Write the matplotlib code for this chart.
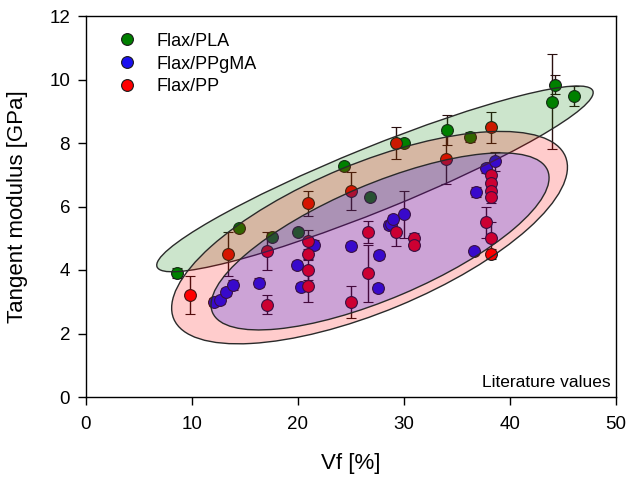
import numpy as np
import matplotlib
matplotlib.use("Agg")
import matplotlib.pyplot as plt
from matplotlib.patches import Ellipse
from matplotlib.transforms import Affine2D
from matplotlib.lines import Line2D

plt.rcParams['font.family'] = ['Liberation Sans', 'DejaVu Sans']

# ---- data ----
pla_x = [8.6, 14.4, 17.5, 20.0, 24.3, 26.8, 30.0, 34.1, 36.2, 44.0, 44.2, 46.0]
pla_y = [3.9, 5.32, 5.04, 5.2, 7.28, 6.3, 8.0, 8.41, 8.19, 9.3, 9.83, 9.48]
pla_e = [0.15, 0.1, 0.1, 0.1, 0.1, 0.1, 0.1, 0.47, 0.15, 1.5, 0.3, 0.3]

ppgma_x = [12.1, 12.6, 13.2, 13.9, 16.3, 19.9, 20.3, 21.5, 25.0, 27.5, 27.6,
           28.6, 28.8, 29.0, 30.0, 36.6, 36.8, 37.7, 38.6]
ppgma_y = [3.0, 3.05, 3.3, 3.53, 3.6, 4.15, 3.46, 4.8, 4.75, 3.43, 4.47,
           5.42, 5.45, 5.6, 5.76, 4.6, 6.46, 7.2, 7.43]
ppgma_e = [0.12, 0.12, 0.12, 0.15, 0.15, 0.12, 0.12, 0.15, 0.12, 0.12, 0.12,
           0.12, 0.12, 0.12, 0.74, 0.1, 0.15, 0.15, 0.3]

pp_x = [9.8, 13.4, 17.1, 17.1, 20.9, 20.9, 20.9, 20.9, 20.9, 25.0, 25.0, 26.6,
        26.6, 29.2, 29.2, 30.9, 30.9, 34.0, 37.7, 38.2, 38.2, 38.2, 38.2, 38.2,
        38.2, 38.2]
pp_y = [3.2, 4.5, 4.6, 2.9, 6.1, 4.9, 4.5, 4.0, 3.5, 6.5, 3.0, 5.2,
        3.9, 8.0, 5.2, 5.0, 4.8, 7.5, 5.5, 8.5, 7.0, 6.75, 6.5, 6.3,
        5.0, 4.5]
pp_e = [0.6, 0.7, 0.6, 0.3, 0.4, 0.35, 0.15, 0.3, 0.5, 0.6, 0.5, 0.35,
        0.9, 0.49, 0.45, 0.15, 0.15, 0.8, 0.5, 0.49, 0.4, 0.2, 0.2, 0.2,
        0.5, 0.15]

series_names = ['Flax/PLA', 'Flax/PPgMA', 'Flax/PP']
series_colors = ['#008000', '#1a10f0', '#ff0000']

# ellipse regions: centre (x, y), semi-axes in x-units, angle (deg, on screen)
ell_names = ['PLA', 'PP', 'PPgMA']
ell_cx = [27.26, 26.75, 27.74]
ell_cy = [6.87, 5.02, 4.9]
ell_a = [22.17, 20.0, 17.17]
ell_b = [3.02, 7.0, 5.4]
ell_ang = [22.0, 22.5, 23.0]
ell_colors = ['#008000', '#ff0000', '#0000ff']

xticks = [0, 10, 20, 30, 40, 50]
yticks = [0, 2, 4, 6, 8, 10, 12]

# ---- figure ----
fig = plt.figure(figsize=(6.3, 4.8), dpi=100)
ax = fig.add_axes([86/630, 83/480, 530/630, 381/480])
ax.set_xlim(0, 50)
ax.set_ylim(0, 12)

mk = dict(marker='o', markersize=8.5, markeredgecolor='#1a1a1a', markeredgewidth=0.8,
          linestyle='none', ecolor='#2a1010', elinewidth=1.0, capsize=3.6,
          capthick=1.0, zorder=2)
ax.errorbar(pla_x, pla_y, yerr=pla_e, color=series_colors[0], **mk)
ax.errorbar(ppgma_x, ppgma_y, yerr=ppgma_e, color=series_colors[1], **mk)
ax.errorbar(pp_x, pp_y, yerr=pp_e, color=series_colors[2], **mk)

# aspect ratio: screen pixels per y unit / per x unit
fig.canvas.draw()
bb = ax.get_window_extent()
r = (bb.height / 12.0) / (bb.width / 50.0)

for cx, cy, a, b, ang, c in zip(ell_cx, ell_cy, ell_a, ell_b, ell_ang, ell_colors):
    e = Ellipse((0, 0), 2 * a, 2 * b, angle=ang,
                facecolor=matplotlib.colors.to_rgba(c, 0.2),
                edgecolor='#2a2a2a', linewidth=1.0, zorder=3)
    e.set_transform(Affine2D().scale(1, 1 / r).translate(cx, cy) + ax.transData)
    ax.add_patch(e)

ax.set_xticks(xticks)
ax.set_yticks(yticks)
ax.tick_params(direction='out', length=6, width=1, labelsize=13.5, top=False, right=False)
ax.tick_params(axis='x', pad=8)
ax.tick_params(axis='y', pad=5.5)
for s in ax.spines.values():
    s.set_linewidth(1.0)

ax.set_xlabel('Vf [%]', fontsize=16, labelpad=14)
ax.set_ylabel('Tangent modulus [GPa]', fontsize=16, labelpad=15)

handles = [Line2D([], [], marker='o', linestyle='none', markersize=8.5,
                  markerfacecolor=c, markeredgecolor='#1a1a1a', markeredgewidth=0.8)
           for c in series_colors]
ax.legend(handles, series_names, loc='upper left', bbox_to_anchor=(0.047, 0.975),
          frameon=False, fontsize=13, handlelength=1.0, handletextpad=1.15,
          labelspacing=0.32, borderaxespad=0.0)

ax.text(0.99, 0.026, 'Literature values', transform=ax.transAxes,
        ha='right', va='baseline', fontsize=12.5)

fig.savefig('out.png', dpi=100)
